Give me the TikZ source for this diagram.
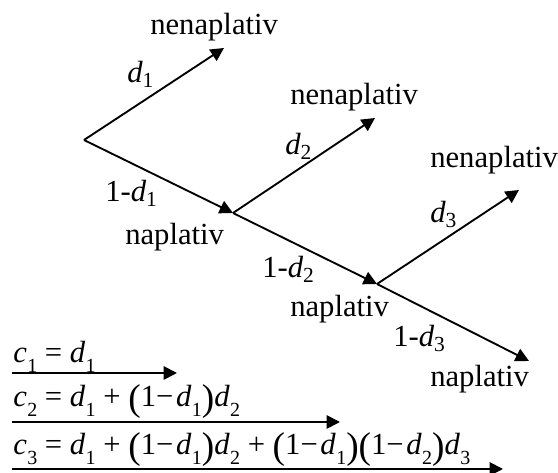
\documentclass[tikz,border=0pt]{standalone}
\usepackage{fontspec}
\setmainfont{Liberation Serif}
\usetikzlibrary{arrows.meta}
\newcommand\lsub[2]{\textit{#1}\textsubscript{#2}}
\newcommand\fsub[2]{\textit{#1}\kern0.3pt\raisebox{-0.32em}{\fontsize{15}{15}\selectfont #2}}
\newcommand\bpar[1]{\raisebox{-0.1em}{\fontsize{28}{28}\selectfont #1}}
\begin{document}
\begin{tikzpicture}[x=0.75pt,y=-0.75pt,font=\fontsize{23}{27}\selectfont,
  branch/.style={line width=1.4pt,-{Triangle[length=10pt,width=10pt]}},
  lbl/.style={inner sep=0pt,anchor=base west}]
\useasboundingbox (0,0) rectangle (558,473);
% tree points
\coordinate (r) at (84,140);
\coordinate (n1) at (233,213);
\coordinate (n2) at (377,284);
\coordinate (e1) at (224,48);
\coordinate (e2) at (375,118);
\coordinate (e3) at (519,190);
\coordinate (e4) at (529,361);
\draw[branch] (r) -- (e1);
\draw[branch] (r) -- (n1);
\draw[branch] (n1) -- (e2);
\draw[branch] (n1) -- (n2);
\draw[branch] (n2) -- (e3);
\draw[branch] (n2) -- (e4);
% labels
\node[lbl] (t1) at (150,35) {nenaplativ};
\node[lbl] (t2) at (290,105) {nenaplativ};
\node[lbl] (t3) at (430,168) {nenaplativ};
\node[lbl] (b1) at (125,245) {naplativ};
\node[lbl] (b2) at (290,317) {naplativ};
\node[lbl] (b3) at (430,387) {naplativ};
\node[lbl] (p1) at (127,83) {\lsub{d}{1}};
\node[lbl] (p2) at (285,155) {\lsub{d}{2}};
\node[lbl] (p3) at (430,223) {\lsub{d}{3}};
\node[lbl] (q1) at (105,202) {1-\lsub{d}{1}};
\node[lbl] (q2) at (262,278) {1-\lsub{d}{2}};
\node[lbl] (q3) at (393,347) {1-\lsub{d}{3}};
% formulas
\node[lbl] (f1) at (13,363) {\fsub{c}{1} = \fsub{d}{1}};
\node[lbl] (f2) at (13,407) {\fsub{c}{2} = \fsub{d}{1} + \bpar{(}1−\kern2pt\fsub{d}{1}\bpar{)}\fsub{d}{2}};
\node[lbl] (f3) at (13,455) {\fsub{c}{3} = \fsub{d}{1} + \bpar{(}1−\kern2pt\fsub{d}{1}\bpar{)}\fsub{d}{2} + \bpar{(}1−\kern2pt\fsub{d}{1}\bpar{)}\bpar{(}1−\kern2pt\fsub{d}{2}\bpar{)}\fsub{d}{3}};
\coordinate (a1s) at (12,373);
\coordinate (a1e) at (177,373);
\coordinate (a2s) at (12,422);
\coordinate (a2e) at (340,422);
\coordinate (a3s) at (12,469);
\coordinate (a3e) at (503,469);
\draw[branch] (a1s) -- (a1e);
\draw[branch] (a2s) -- (a2e);
\draw[branch] (a3s) -- (a3e);
\end{tikzpicture}
\end{document}
